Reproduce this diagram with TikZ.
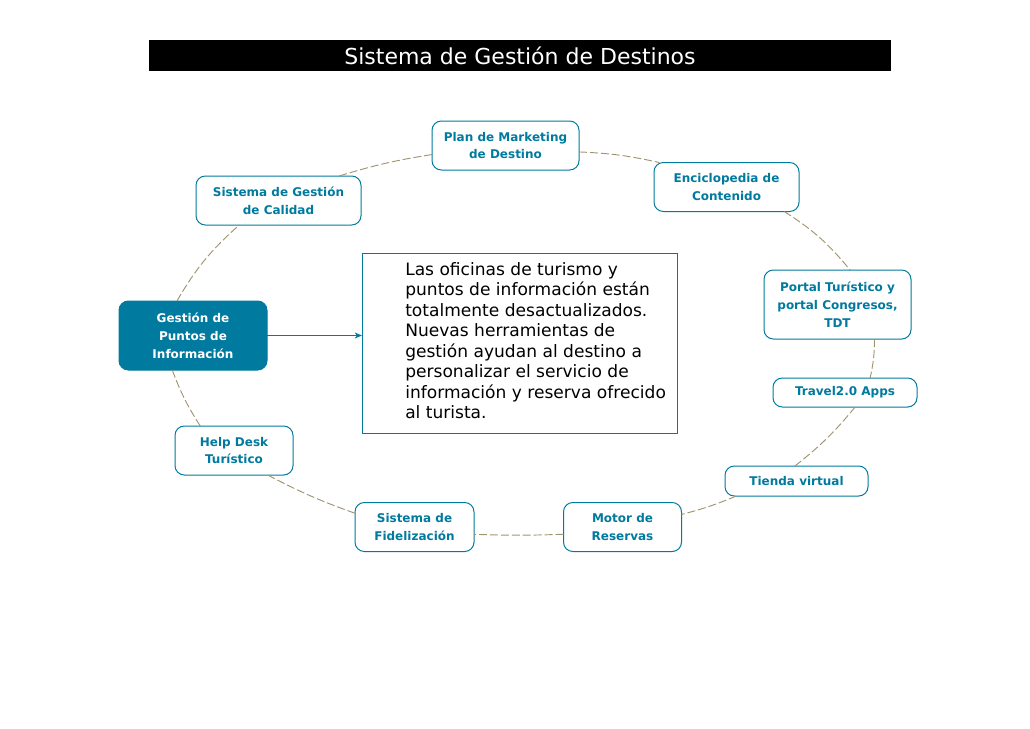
\documentclass[tikz,border=0pt]{standalone}
\usepackage{fontspec}
\setmainfont{DejaVu Sans}
\usetikzlibrary{arrows.meta}
\tikzset{>={Stealth[length=5.5pt,width=4.5pt]}}
\definecolor{teal1}{HTML}{007A9E}
\definecolor{dash1}{HTML}{A09470}
\tikzset{
caja/.style={draw=teal1,line width=0.75pt,rounded corners=7pt,fill=white,text=teal1,align=center,
  font=\fontsize{9pt}{13.4pt}\selectfont\bfseries,inner sep=0pt,outer sep=0pt,minimum height=36.75pt},
cajaalta/.style={caja,minimum height=51.75pt},
anillo/.style={draw=dash1,line width=0.7pt,dash pattern=on 6pt off 2.2pt}
}
\begin{document}
\begin{tikzpicture}[x=0.75pt,y=-0.75pt]
\useasboundingbox (0,0) rectangle (1030,728);
\node[fill=black,text=white,minimum width=556.5pt,minimum height=23.25pt,inner sep=0pt,outer sep=0pt,font=\fontsize{16.5pt}{18pt}\selectfont] (titulo) at (520,55.5) {Sistema de Gestión de Destinos};
\node[caja,minimum width=110.25pt] (plan) at (505.5,145.5) {Plan de Marketing\\de Destino};
\node[caja,minimum width=108.75pt] (enciclopedia) at (726.5,187) {Enciclopedia de\\Contenido};
\node[cajaalta,minimum width=110.25pt] (portal) at (837.5,304.5) {Portal Turístico y\\portal Congresos,\\TDT};
\node[caja,minimum width=108pt,minimum height=21.75pt] (travel) at (845,392.5) {Travel2.0 Apps};
\node[caja,minimum width=107.25pt,minimum height=22.5pt] (tienda) at (796.5,481) {Tienda virtual};
\node[caja,minimum width=88.5pt] (motor) at (622.5,527) {Motor de\\Reservas};
\node[caja,minimum width=89.25pt] (fidelizacion) at (414.5,527) {Sistema de\\Fidelización};
\node[caja,minimum width=88.5pt] (helpdesk) at (234,450.5) {Help Desk\\Turístico};
\node[cajaalta,fill=teal1,text=white,minimum width=111pt] (gestion) at (193,335.5) {Gestión de\\Puntos de\\Información};
\node[caja,minimum width=123.75pt] (calidad) at (278.5,200.5) {Sistema de Gestión\\de Calidad};
\node[draw=teal1,line width=0.75pt,minimum width=236.25pt,minimum height=135pt,inner sep=0pt,outer sep=0pt] (texto) at (519.5,343) {};
\node[anchor=north west,inner sep=0pt,align=left,font=\fontsize{12.8pt}{15.35pt}\selectfont] (parrafo) at (405,262) {Las oficinas de turismo y\\puntos de información están\\totalmente desactualizados.\\Nuevas herramientas de\\gestión ayudan al destino a\\personalizar el servicio de\\información y reserva ofrecido\\al turista.};
% anillo de conectores
\foreach \a/\b/\c in {plan.355/enciclopedia.160/5,enciclopedia.337/portal.70/9,portal.317/travel.30/6,travel.305/tienda.96/6,tienda.194/motor.12/4,motor.187/fidelizacion.353/2,fidelizacion.167/helpdesk.324/4,helpdesk.144/gestion.239/6,gestion.115/calidad.212/9,calidad.22/plan.187/4}
\draw[anillo] (\a) to[bend left=\c] (\b);
\draw[->,teal1,line width=0.75pt] (gestion.east) -- (gestion.east -| texto.west);
\end{tikzpicture}
\end{document}
